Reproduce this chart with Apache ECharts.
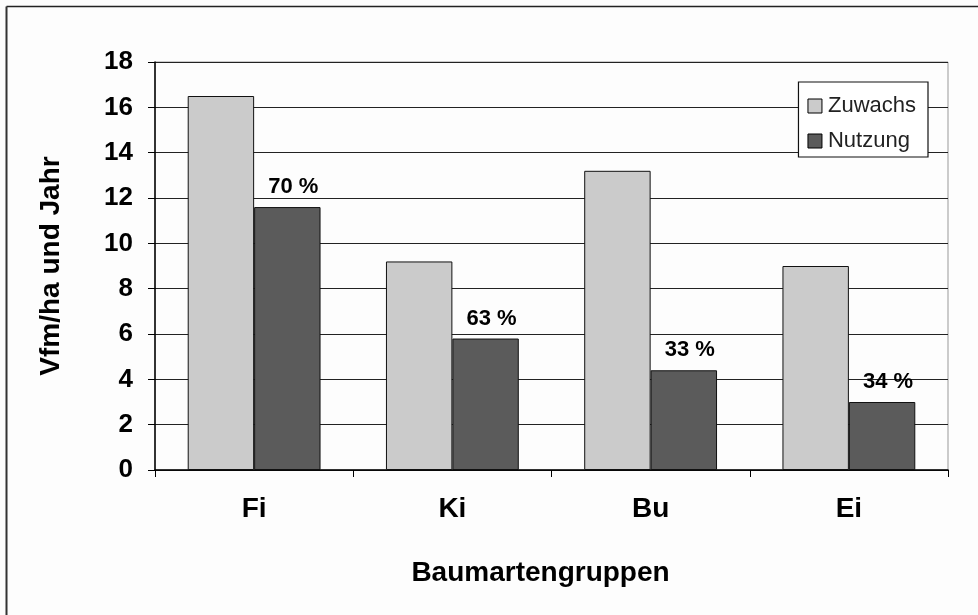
<!DOCTYPE html>
<html><head><meta charset="utf-8">
<script src="https://cdn.jsdelivr.net/npm/echarts@6/dist/echarts.min.js"></script>
<style>html,body{margin:0;padding:0;background:#fdfdfd}#c{width:978px;height:615px}</style>
</head><body><div id="c"></div>
<script>
const categories = ['Fi','Ki','Bu','Ei'];
const zuwachs = [16.5, 9.2, 13.2, 9.0];
const nutzung = [11.6, 5.8, 4.4, 3.0];
const pctLabels = ['70 %','63 %','33 %','34 %'];
const yTicks = [0,2,4,6,8,10,12,14,16,18];

const chart = echarts.init(document.getElementById('c'), null, {renderer:'canvas'});
const F = 'Liberation Sans, Arial, sans-serif';
chart.setOption({
  animation:false,
  backgroundColor:'#fdfdfd',
  graphic:[
    {type:'line',shape:{x1:6.5,y1:6.5,x2:978,y2:6.5},style:{stroke:'#222',lineWidth:1.5}},
    {type:'line',shape:{x1:6.5,y1:6.5,x2:6.5,y2:615},style:{stroke:'#333',lineWidth:2}}
  ],
  grid:{left:155,right:30,top:62,bottom:145,containLabel:false,show:true,borderColor:'#999',borderWidth:1,backgroundColor:'transparent'},
  legend:{
    right:50, top:82, orient:'vertical', itemWidth:14, itemHeight:14, itemGap:13,
    padding:[13,12,5,9],
    backgroundColor:'#fff', borderColor:'#111', borderWidth:1.2, borderRadius:0,
    icon:'rect',
    textStyle:{fontFamily:F,fontSize:22,color:'#222',padding:[0,0,0,1]},
    itemStyle:{borderColor:'#000',borderWidth:1},
    data:['Zuwachs','Nutzung']
  },
  xAxis:{
    type:'category', data:categories,
    name:'Baumartengruppen', nameLocation:'middle', nameGap:89,
    nameTextStyle:{fontFamily:F,fontSize:28,fontWeight:'bold',color:'#000',padding:[0,22,0,0]},
    axisLine:{lineStyle:{color:'#000',width:1.5}},
    axisTick:{show:true,alignWithLabel:false,length:7,lineStyle:{color:'#000'}},
    axisLabel:{fontFamily:F,fontSize:28,fontWeight:'bold',color:'#000',margin:25}
  },
  yAxis:{
    type:'value', min:yTicks[0], max:yTicks[yTicks.length-1], interval:2,
    name:'Vfm/ha und Jahr', nameLocation:'middle', nameGap:90, nameRotate:90,
    nameTextStyle:{fontFamily:F,fontSize:28,fontWeight:'bold',color:'#000'},
    axisLine:{show:true,lineStyle:{color:'#000',width:1.5}},
    axisTick:{show:true,length:7,lineStyle:{color:'#000'}},
    axisLabel:{fontFamily:F,fontSize:26,fontWeight:'bold',color:'#000',margin:22},
    splitLine:{lineStyle:{color:'#222',width:1.2}}
  },
  series:[
    {name:'Zuwachs',type:'bar',data:zuwachs,barGap:'0%',barCategoryGap:'33%',
     itemStyle:{color:'#cbcbcb',borderColor:'#111',borderWidth:1}},
    {name:'Nutzung',type:'bar',data:nutzung,
     itemStyle:{color:'#5b5b5b',borderColor:'#111',borderWidth:1},
     label:{show:true,position:'top',distance:9,offset:[6,0],
       formatter:p=>pctLabels[p.dataIndex],
       fontFamily:F,fontSize:22,fontWeight:'bold',color:'#000'}}
  ]
});
</script></body></html>
